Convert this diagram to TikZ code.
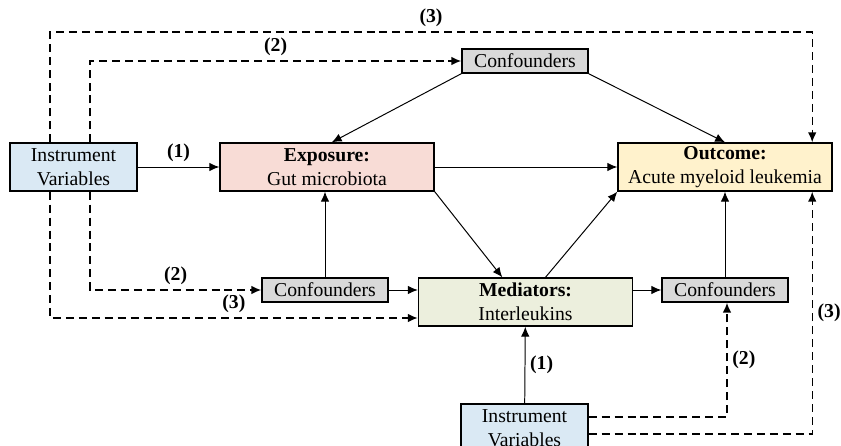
\documentclass[tikz,border=0pt]{standalone}
\usepackage{fontspec}
\setmainfont{Liberation Serif}
\usetikzlibrary{positioning,arrows.meta}
\definecolor{ivblue}{RGB}{218,233,244}
\definecolor{exppink}{RGB}{248,220,214}
\definecolor{outyellow}{RGB}{255,242,204}
\definecolor{medgreen}{RGB}{236,239,221}
\definecolor{confgray}{RGB}{217,217,217}

\begin{document}
\begin{tikzpicture}[x=0.025cm, y=-0.025cm, font=\fontsize{14}{17}\selectfont,
    box/.style={draw, line width=1pt, align=center, inner sep=0pt, minimum height=1.2cm},
    ivbox/.style={box, fill=ivblue, minimum width=3.175cm},
    bigbox/.style={box, minimum width=5.35cm},
    confbox/.style={box, fill=confgray, minimum width=3.15cm, minimum height=0.6cm},
    arr/.style={-{Latex[length=7pt,width=6pt]}, line width=0.7pt},
    dashline/.style={arr, line width=1pt, dash pattern=on 5.7pt off 3.5pt},
    lbl/.style={font=\fontsize{14}{17}\selectfont\bfseries}]
  \useasboundingbox (0,0) rectangle (841,446);
  \clip (0,0) rectangle (841,446);

  % boxes
  \node[ivbox] (ivl) at (73.5,167) {Instrument\\Variables};
  \node[bigbox, fill=exppink] (exp) at (327,167) {\textbf{Exposure:}\\Gut microbiota};
  \node[bigbox, fill=outyellow] (out) at (725,167) {\textbf{Outcome:}\\Acute myeloid leukemia};
  \node[confbox] (conft) at (525,61) {Confounders};
  \node[confbox] (confl) at (325,290) {Confounders};
  \node[bigbox, fill=medgreen] (med) at (525.5,302) {\textbf{Mediators:}\\Interleukins};
  \node[confbox] (confr) at (725,290) {Confounders};
  \node[ivbox] (ivb) at (524.5,428) {Instrument\\Variables};
  \coordinate (lane3) at (0,32);

  % solid paths
  \draw[arr] (ivl) -- node[lbl, above] {(1)} (exp);
  \draw[arr] (conft.south west) -- ([xshift=0.12cm]exp.north);
  \draw[arr] (conft.south east) -- (out.north);
  \draw[arr] (exp) -- (out);
  \draw[arr] (exp.south east) -- ([xshift=-0.58cm]med.north);
  \draw[arr] ([xshift=0.5cm]med.north) -- (out.south west);
  \draw[arr] (confl.north) -- (confl.north |- exp.south);
  \draw[arr] (confl.east) -- (confl.east -| med.west);
  \draw[arr] (med.east |- confr.west) -- (confr.west);
  \draw[arr] (confr.north) -- (confr.north |- out.south);
  \draw[arr] (ivb) -- node[lbl, right] {(1)} (med);

  % dashed paths
  \draw[dashline] ([xshift=-0.59cm]ivl.north) |- node[lbl, pos=0.75, above] {(3)}
        ([xshift=2.18cm]out.north |- lane3) -- ([xshift=2.18cm]out.north);
  \draw[dashline] ([xshift=0.41cm]ivl.north) |- node[lbl, pos=0.75, above] {(2)} (conft.west);
  \draw[dashline] ([xshift=0.41cm]ivl.south) |- node[lbl, pos=0.75, above] {(2)} (confl.west);
  \draw[dashline] ([xshift=-0.59cm]ivl.south) |- node[lbl, pos=0.75, above] {(3)} ([yshift=-0.4cm]med.west);
  \draw[dashline] ([yshift=0.275cm]ivb.east) -| node[lbl, pos=0.75, right] {(2)} ([xshift=0.05cm]confr.south);
  \draw[dashline] ([yshift=-0.15cm]ivb.east) -| node[lbl, pos=0.75, right] {(3)} ([xshift=2.18cm]out.south);
\end{tikzpicture}
\end{document}
